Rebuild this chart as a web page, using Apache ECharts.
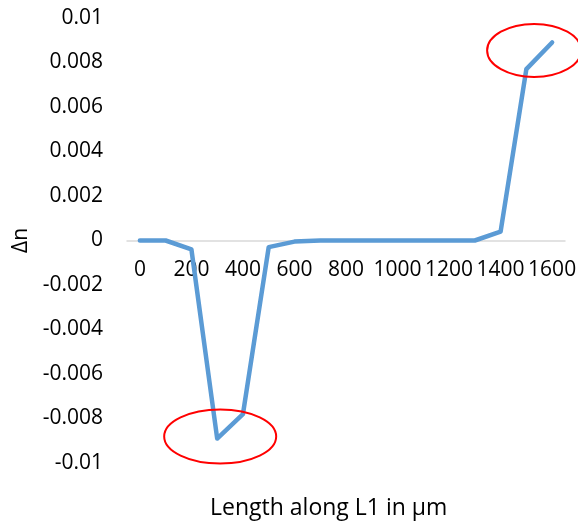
<!DOCTYPE html>
<html>
<head>
<meta charset="utf-8">
<script src="https://cdn.jsdelivr.net/npm/echarts@6/dist/echarts.min.js"></script>
<style>
html,body{margin:0;padding:0;background:#fff;}
#c{width:578px;height:526px;}
</style>
</head>
<body>
<div id="c"></div>
<script>
var categories = ['0','100','200','300','400','500','600','700','800','900','1000','1100','1200','1300','1400','1500','1600'];
var deltaN = [0, 0, -0.0004, -0.0089, -0.0078, -0.0003, -0.00005, 0, 0, 0, 0, 0, 0, 0, 0.0004, 0.0077, 0.0089];
var yTicks = [-0.01, -0.008, -0.006, -0.004, -0.002, 0, 0.002, 0.004, 0.006, 0.008, 0.01];
var xTitle = 'Length along L1 in µm';
var yTitle = 'Δn';
var highlighted = [[3, 'bottom'], [16, 'top']];

var font = 'Open Sans';
var chart = echarts.init(document.getElementById('c'), null, {renderer: 'canvas'});
var option = {
  animation: false,
  backgroundColor: '#ffffff',
  title: {
    text: xTitle, left: 205, top: 492,
    textStyle: {fontFamily: font, fontSize: 23, fontWeight: 'normal', color: '#000'}
  },
  grid: {left: 127, right: 13, top: 18, bottom: 63, containLabel: false, outerBoundsMode: 'none'},
  xAxis: {
    type: 'category',
    data: categories,
    boundaryGap: true,
    position: 'bottom',
    offset: 0,
    axisLine: {show: true, onZero: false, lineStyle: {color: '#d9d9d9', width: 1.5}},
    axisTick: {show: false},
    axisLabel: {interval: 1, margin: 19, fontFamily: font, fontSize: 21, color: '#000'},
    splitLine: {show: false}
  },
  yAxis: {
    type: 'value',
    min: yTicks[0],
    max: yTicks[yTicks.length - 1],
    interval: 0.002,
    name: yTitle,
    nameLocation: 'middle',
    nameGap: 95,
    nameRotate: 90,
    nameTextStyle: {fontFamily: font, fontSize: 21, color: '#000'},
    axisLine: {show: false},
    axisTick: {show: false},
    splitLine: {show: false},
    axisLabel: {
      margin: 24, fontFamily: font, fontSize: 21, color: '#000',
      formatter: function (v) { return String(parseFloat(v.toFixed(4))); }
    }
  },
  series: [{
    type: 'line',
    data: deltaN,
    symbol: 'none',
    lineStyle: {color: '#5b9bd5', width: 4.5, cap: 'round', join: 'round'},
    z: 3
  }]
};
chart.setOption(option);

// move the x axis (line + labels) up to y = 0
var zeroY = chart.convertToPixel({yAxisIndex: 0}, 0);
var bottomY = chart.convertToPixel({yAxisIndex: 0}, yTicks[0]);
chart.setOption({xAxis: {offset: -(bottomY - zeroY)}});

var graphics = highlighted.map(function (h) {
  var p = chart.convertToPixel({seriesIndex: 0}, [h[0], deltaN[h[0]]]);
  var cx, cy, rx, ry;
  if (h[1] === 'bottom') { cx = p[0] + 3; cy = p[1] - 2; rx = 56; ry = 27; }
  else { cx = p[0] - 18; cy = p[1] + 8; rx = 47; ry = 26.5; }
  return {
    type: 'ellipse',
    shape: {cx: cx, cy: cy, rx: rx, ry: ry},
    style: {fill: 'none', stroke: '#ff0000', lineWidth: 2},
    z: 10
  };
});
chart.setOption({graphic: graphics});
</script>
</body>
</html>
